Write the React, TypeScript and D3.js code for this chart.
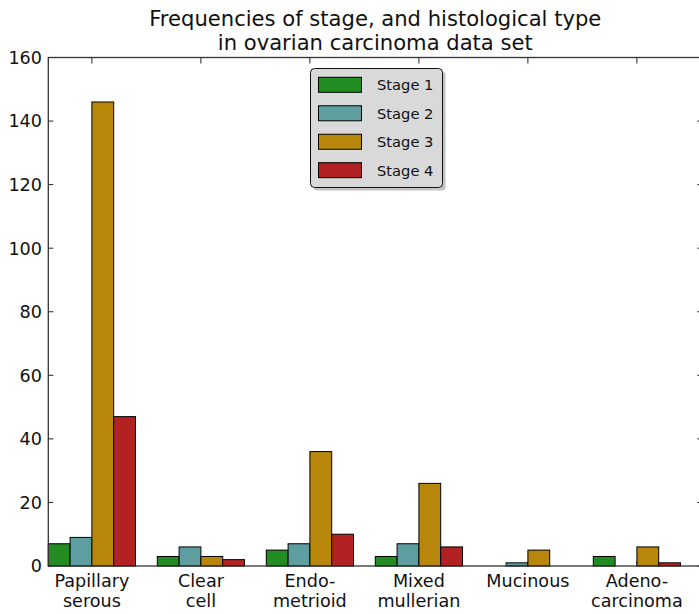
import React from "react";
import * as d3 from "d3";

const categories: string[][] = [
  ["Papillary", "serous"],
  ["Clear", "cell"],
  ["Endo-", "metrioid"],
  ["Mixed", "mullerian"],
  ["Mucinous"],
  ["Adeno-", "carcinoma"],
];
const seriesNames = ["Stage 1", "Stage 2", "Stage 3", "Stage 4"];
const stage1 = [7, 3, 5, 3, 0, 3];
const stage2 = [9, 6, 7, 7, 1, 0];
const stage3 = [146, 3, 36, 26, 5, 6];
const stage4 = [47, 2, 10, 6, 0, 1];
const seriesValues = [stage1, stage2, stage3, stage4];
const seriesColors = ["#228B22", "#5F9EA0", "#B8860B", "#B22222"];
const yTicks = [0, 20, 40, 60, 80, 100, 120, 140, 160];
const titleLines = ["Frequencies of stage, and histological type", "in ovarian carcinoma data set"];

const W = 699;
const H = 614;
const left = 48.3;
const right = 702.3;
const top = 57.5;
const bottom = 566;
const barW = 0.2;
const FONT = "DejaVu Sans, sans-serif";

export default function App() {
  const x = d3.scaleLinear().domain([0, 6]).range([left, right]);
  const y = d3.scaleLinear().domain([0, 160]).range([bottom, top]);
  const tickLen = 5;
  const centers = categories.map((_, i) => x(i + 0.4));

  const legX = 310.5;
  const legY = 68.5;
  const legW = 132;
  const legH = 119;

  return (
    <svg
      width={W}
      height={H}
      style={{ position: "fixed", left: 0, top: 0, background: "#fff" }}
      fontFamily={FONT}
    >
      <rect x={0} y={0} width={W} height={H} fill="#fff" />
      {/* title */}
      {titleLines.map((t, i) => (
        <text key={i} x={(left + right) / 2} y={26 + i * 23.5} textAnchor="middle" fontSize={21.1} fill="#111">
          {t}
        </text>
      ))}
      {/* ticks (inward) */}
      {yTicks.map((v) => (
        <g key={"yt" + v}>
          <line x1={left} x2={left + tickLen} y1={y(v)} y2={y(v)} stroke="#222" strokeWidth={1} />
          <line x1={right} x2={right - tickLen} y1={y(v)} y2={y(v)} stroke="#222" strokeWidth={1} />
          <text x={42} y={y(v)} dy="0.36em" textAnchor="end" fontSize={17.6} fill="#111">
            {v}
          </text>
        </g>
      ))}
      {centers.map((cx, i) => (
        <g key={"xt" + i}>
          <line x1={cx} x2={cx} y1={top} y2={top + tickLen + 1} stroke="#222" strokeWidth={1} />
          <line x1={cx} x2={cx} y1={bottom} y2={bottom - tickLen} stroke="#222" strokeWidth={1} />
        </g>
      ))}
      {/* bars */}
      {seriesValues.map((vals, s) =>
        vals.map((v, i) => {
          const x0 = x(i + s * barW);
          const x1 = x(i + (s + 1) * barW);
          return (
            <rect
              key={s + "-" + i}
              x={x0}
              y={y(v)}
              width={x1 - x0}
              height={y(0) - y(v)}
              fill={seriesColors[s]}
              stroke="#000"
              strokeWidth={1}
            />
          );
        })
      )}
      {/* frame */}
      <rect x={left} y={top} width={right - left} height={bottom - top} fill="none" stroke="#333" strokeWidth={1.3} />
      {/* x labels */}
      {categories.map((lines, i) => (
        <text key={"xl" + i} textAnchor="middle" fontSize={17.6} fill="#111">
          {lines.map((l, j) => (
            <tspan key={j} x={centers[i]} y={586.5 + j * 20.9}>
              {l}
            </tspan>
          ))}
        </text>
      ))}
      {/* legend */}
      <rect x={legX + 3} y={legY + 3} width={legW} height={legH} rx={4} fill="#888" opacity={0.5} />
      <rect x={legX} y={legY} width={legW} height={legH} rx={4} fill="#d9d9d9" stroke="#111" strokeWidth={1} />
      {seriesNames.map((n, i) => {
        const cy = 84.8 + i * 28.47;
        return (
          <g key={n}>
            <rect x={318.5} y={cy - 7.5} width={43} height={15} fill={seriesColors[i]} stroke="#000" strokeWidth={1} />
            <text x={377} y={cy} dy="0.36em" fontSize={14.7} fill="#111">
              {n}
            </text>
          </g>
        );
      })}
    </svg>
  );
}
